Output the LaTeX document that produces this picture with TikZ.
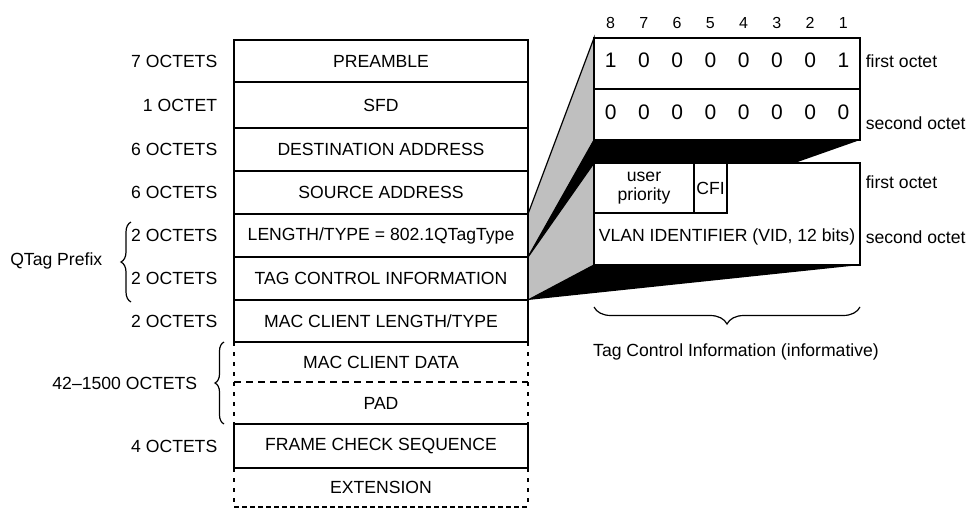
\documentclass[tikz,border=0pt]{standalone}
\usepackage{fontspec}
\setmainfont{Liberation Sans}
\usetikzlibrary{positioning,decorations.pathreplacing,backgrounds}

\tikzset{
  txt/.style={font=\fontsize{17.6}{19}\selectfont, inner sep=0pt},
  field/.style={txt, draw, fill=white, minimum width=294pt, outer sep=0pt},
  openfield/.style={txt, minimum width=294pt, outer sep=0pt},
  cell/.style={txt, draw, fill=white, outer sep=0pt},
  digit/.style={font=\fontsize{21}{21}\selectfont, inner sep=0pt},
  bitnum/.style={font=\fontsize{16}{16}\selectfont, inner sep=0pt},
  sidedash/.style={dash pattern=on 4pt off 6pt},
  middash/.style={dash pattern=on 7pt off 5pt},
  botdash/.style={dash pattern=on 5pt off 3pt},
  brace/.style={decorate, decoration={brace, amplitude=#1}, line width=1.2pt},
}

\begin{document}
\begin{tikzpicture}[x=1pt, y=-1pt, line width=1.5pt]
\useasboundingbox (0,0) rectangle (968,509);

% the frame, one field per row
\foreach \name/\ya/\yb/\sty/\txt in {
  pre/40/82/field/PREAMBLE, sfd/82/128/field/SFD,
  dst/128/171/field/DESTINATION ADDRESS, src/171/214/field/SOURCE ADDRESS,
  len/214/257/field/{LENGTH/TYPE = 802.1QTagType},
  tci/257/300/field/TAG CONTROL INFORMATION,
  mlen/300/342/field/{MAC CLIENT LENGTH/TYPE},
  data/342/382/openfield/MAC CLIENT DATA, pad/382/424/openfield/PAD,
  fcs/424/468/field/FRAME CHECK SEQUENCE, ext/468/507/openfield/EXTENSION}
  \node[\sty, minimum height=\yb pt-\ya pt] (\name) at (381,{(\ya+\yb)/2}) {\txt};

\draw[line width=2.6pt] (len.south west) -- (len.south east)
  (tci.south west) -- (tci.south east);
\draw[sidedash] (data.north west) -- (pad.south west)
  (data.north east) -- (pad.south east)
  (ext.north west) -- (ext.south west) (ext.north east) -- (ext.south east);
\draw[middash] (data.south west) -- (data.south east);
\draw[botdash] (ext.south west) -- (ext.south east);

% sizes
\foreach \name/\txt in {pre/7 OCTETS, sfd/1 OCTET, dst/6 OCTETS, src/6 OCTETS,
  len/2 OCTETS, tci/2 OCTETS, mlen/2 OCTETS, fcs/4 OCTETS}
  \node[txt, left=16pt of \name] (\name-size) {\txt};
\draw[brace=9pt] (224,424) -- (224,342);
\node[txt, anchor=east] (data-size) at (198,383) {42–1500 OCTETS};
\draw[brace=10pt] (131,302) -- (131,222);
\node[txt, anchor=east] (qtag) at (103,261) {QTag Prefix};

% tag type and tag control octets
\node[cell, minimum width=266pt, minimum height=51pt, anchor=north west] (oct1) at (594,38) {};
\node[cell, minimum width=266pt, minimum height=51pt, anchor=north] (oct2) at (oct1.south) {};
\foreach \i/\a/\b in {1/1/0, 2/0/0, 3/0/0, 4/0/0, 5/0/0, 6/0/0, 7/0/0, 8/1/0} {
  \pgfmathtruncatemacro\n{9-\i}
  \node[bitnum] (bit-\n) at ({594+33.25*(\i-0.5)},23) {\n};
  \node[digit] (one-\n) at ({594+33.25*(\i-0.5)},60) {\a};
  \node[digit] (two-\n) at ({594+33.25*(\i-0.5)},112) {\b};
}
\node[cell, minimum width=266pt, minimum height=102pt, anchor=north west] (tcibox) at (594,163) {};
\node[cell, minimum width=100pt, minimum height=50pt, anchor=north west, align=center] (prio) at (tcibox.north west) {user\\priority};
\node[cell, minimum width=33pt, minimum height=50pt, anchor=north west] (cfi) at (prio.north east) {CFI};
\node[txt] (vid) at (727,237) {VLAN IDENTIFIER (VID, 12 bits)};

\node[txt, anchor=west] (oct1-lbl) at (865,61) {first octet};
\node[txt, anchor=west] (oct2-lbl) at (865,123) {second octet};
\node[txt, anchor=west] (tci1-lbl) at (865,182) {first octet};
\node[txt, anchor=west] (tci2-lbl) at (865,237) {second octet};

\draw[brace=17pt] (860,307) -- (594,307);
\node[txt] (tci-note) at (736,352) {Tag Control Information (informative)};

% the zoom from the frame to the octets
\begin{scope}[on background layer]
\filldraw[fill=gray!50, line width=1.2pt] (len.north east) -- (oct1.north west)
  -- (oct2.south west) -- (len.south east) -- cycle;
\fill (len.south east) -- (oct2.south west) -- (oct2.south east) -- cycle;
\filldraw[fill=gray!50, line width=1.2pt] (len.south east) -- (tcibox.north west)
  -- (tcibox.south west) -- (tci.south east) -- cycle;
\fill (tci.south east) -- (tcibox.south west) -- (tcibox.south east) -- cycle;
\end{scope}
\end{tikzpicture}
\end{document}
